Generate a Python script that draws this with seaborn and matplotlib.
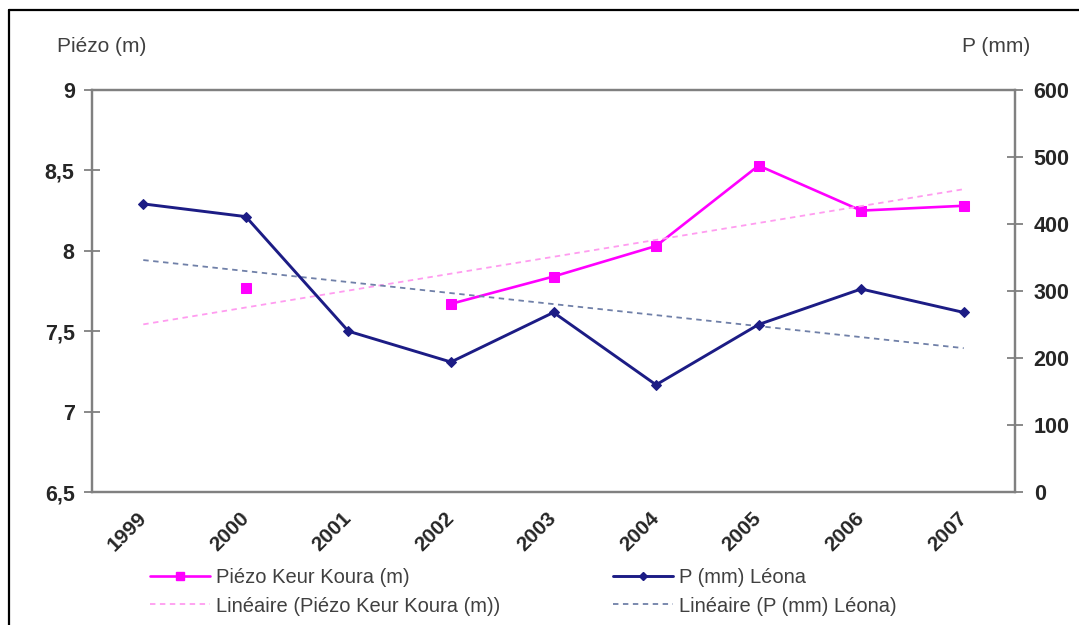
import numpy as np
import pandas as pd
import matplotlib
matplotlib.use("Agg")
import matplotlib.pyplot as plt
import seaborn as sns
from matplotlib.lines import Line2D

# ---------------- data ----------------
years = ["1999", "2000", "2001", "2002", "2003", "2004", "2005", "2006", "2007"]
piezo = [np.nan, 7.77, np.nan, 7.67, 7.84, 8.03, 8.53, 8.25, 8.28]   # Piézo Keur Koura (m)
pluie = [430, 411, 240, 194, 268, 160, 250, 303, 268]                 # P (mm) Léona

piezo_label = "Piézo Keur Koura (m)"
pluie_label = "P (mm) Léona"
piezo_trend_label = "Linéaire (Piézo Keur Koura (m))"
pluie_trend_label = "Linéaire (P (mm) Léona)"
left_title = "Piézo (m)"
right_title = "P (mm)"
left_ticks = [6.5, 7, 7.5, 8, 8.5, 9]
right_ticks = [0, 100, 200, 300, 400, 500, 600]

# ---------------- style ----------------
sns.set_style("white")
plt.rcParams["font.family"] = ["Liberation Sans", "DejaVu Sans"]

PINK = "#ff00ff"
PINK_TREND = "#ff9cf0"
BLUE = "#1c1c85"
BLUE_TREND = "#7080a8"
GRAY = "#808080"
TXT = "#262626"

W, H = 1079, 625
fig = plt.figure(figsize=(W / 100, H / 100), dpi=100)
ax = fig.add_axes([92 / W, 1 - 492 / H, (1015 - 92) / W, (492 - 90) / H])
ax2 = ax.twinx()

x = np.arange(len(years))
df = pd.DataFrame({"x": x, "piezo": piezo, "pluie": pluie})

# ---- piezo series (broken at missing values) ----
valid = df["piezo"].notna()
seg_id = (valid != valid.shift()).cumsum()
for _, seg in df[valid].groupby(seg_id[valid]):
    sns.lineplot(data=seg, x="x", y="piezo", ax=ax, color=PINK, linewidth=1.9,
                 marker="s", markersize=7, markeredgecolor=PINK, legend=False)

# piezo linear trend
fit_p = np.polyfit(df.loc[valid, "x"], df.loc[valid, "piezo"], 1)
sns.lineplot(x=x, y=np.polyval(fit_p, x), ax=ax, color=PINK_TREND, linewidth=1.3,
             linestyle=(0, (3, 2.5)), legend=False)

# ---- rainfall series on secondary axis ----
fit_r = np.polyfit(df["x"], df["pluie"], 1)
sns.lineplot(x=x, y=np.polyval(fit_r, x), ax=ax2, color=BLUE_TREND, linewidth=1.3,
             linestyle=(0, (3, 2.5)), legend=False)
sns.lineplot(data=df, x="x", y="pluie", ax=ax2, color=BLUE, linewidth=2.1,
             marker="D", markersize=5, markeredgecolor=BLUE, legend=False)

# ---------------- axes ----------------
ax.set_xlim(-0.5, len(years) - 0.5)
ax.set_ylim(left_ticks[0], left_ticks[-1])
ax2.set_ylim(right_ticks[0], right_ticks[-1])
ax.set_xlabel("")
ax.set_ylabel("")
ax2.set_ylabel("")
ax2.set_xlabel("")

ax.set_xticks(x, labels=years, rotation=45, ha="right", va="center",
              rotation_mode="anchor", fontweight="bold", fontsize=15, color=TXT)
ax.set_xticks(np.arange(-0.5, len(years), 1), minor=True)
ax.tick_params(axis="x", which="major", length=0, pad=17)
ax.tick_params(axis="x", which="minor", direction="inout", length=10, width=1.3, color=GRAY)

ax.set_yticks(left_ticks, labels=[f"{v:g}".replace(".", ",") for v in left_ticks],
              fontweight="bold", fontsize=15.5, color=TXT)
ax.tick_params(axis="y", direction="inout", length=11, width=1.3, color=GRAY, pad=7)

ax2.set_yticks(right_ticks, labels=[str(v) for v in right_ticks],
               fontweight="bold", fontsize=15.5, color=TXT)
ax2.tick_params(axis="y", direction="inout", length=11, width=1.3, color=GRAY, pad=8)

for a in (ax, ax2):
    for s in a.spines.values():
        s.set_visible(True)
        s.set_color(GRAY)
        s.set_linewidth(1.6)
    a.grid(False)

# axis titles
fig.text(102 / W, 1 - 47 / H, left_title, ha="center", va="center", fontsize=15, color="#404040")
fig.text(996 / W, 1 - 47 / H, right_title, ha="center", va="center", fontsize=15, color="#404040")

# page frame
fig.add_artist(Line2D([9 / W, 9 / W], [0, 1 - 10 / H], transform=fig.transFigure, color="black", lw=1.6))
fig.add_artist(Line2D([9 / W, 1], [1 - 10 / H, 1 - 10 / H], transform=fig.transFigure, color="black", lw=1.6))

# ---------------- legend ----------------
h1 = Line2D([], [], color=PINK, lw=1.9, marker="s", ms=6)
h2 = Line2D([], [], color=PINK_TREND, lw=1.3, ls=(0, (3, 2.5)))
h3 = Line2D([], [], color=BLUE, lw=2.1, marker="D", ms=4)
h4 = Line2D([], [], color=BLUE_TREND, lw=1.3, ls=(0, (3, 2.5)))
common = dict(loc="center left", frameon=False, fontsize=14.5, handlelength=3.0,
              handletextpad=0.3, borderpad=0, borderaxespad=0, labelspacing=0.45,
              numpoints=1, labelcolor="#404040")
fig.legend([h1, h2], [piezo_label, piezo_trend_label],
           bbox_to_anchor=(150 / W, 1 - 592 / H), **common)
fig.legend([h3, h4], [pluie_label, pluie_trend_label],
           bbox_to_anchor=(613 / W, 1 - 592 / H), **common)

fig.savefig("out.png", dpi=100)
